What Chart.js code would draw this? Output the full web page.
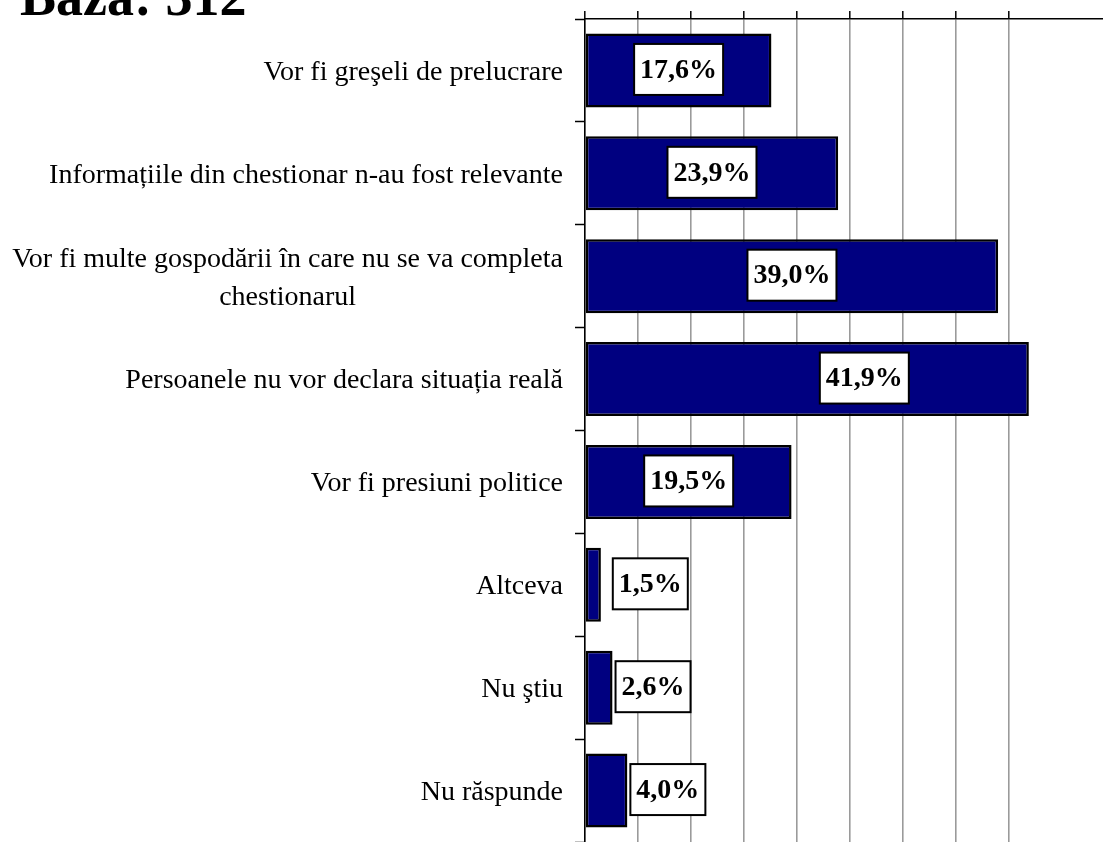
<!DOCTYPE html>
<html>
<head>
<meta charset="utf-8">
<script src="https://cdn.jsdelivr.net/npm/chart.js@4.4.0/dist/chart.umd.min.js"></script>
<style>
  html, body { margin: 0; padding: 0; background: #fff; }
</style>
</head>
<body>
<canvas id="myChart" width="1103" height="842"></canvas>
<script>
const categories = [
   "Vor fi greşeli de prelucrare",
   "Informațiile din chestionar n-au fost relevante",
   ["Vor fi multe gospodării în care nu se va completa", "chestionarul"],
   "Persoanele nu vor declara situația reală",
   "Vor fi presiuni politice",
   "Altceva",
   "Nu ştiu",
   "Nu răspunde",
];
const values = [17.6, 23.9, 39.0, 41.9, 19.5, 1.5, 2.6, 4.0];
const tickStep = 5;
const axisMax = 48.9; // picture is cut off before 50%
const title = "Bază: 312";

const serif = "'Liberation Serif', 'Times New Roman', serif";

// white boxed value labels, inside the bar when it fits, else right of it
const valueLabels = {
   id: "valueLabels",
   afterDatasetsDraw(chart, args, opts) {
      const ctx = chart.ctx;
      const meta = chart.getDatasetMeta(0);
      const shift = opts.shift || {};
      ctx.save();
      ctx.font = "bold 28px " + serif;
      ctx.textAlign = "center";
      ctx.textBaseline = "middle";
      meta.data.forEach((bar, i) => {
         const txt = values[i].toFixed(1).replace(".", ",") + "%";
         const w = ctx.measureText(txt).width + 12;
         const h = 51;
         let cx;
         if (bar.x - bar.base > w + 20) cx = (bar.x + bar.base) / 2;
         else cx = Math.max(bar.x + 3, bar.base + 27) + w / 2;
         cx += shift[i] || 0;
         const y = bar.y - 1;
         ctx.fillStyle = "#fff";
         ctx.fillRect(cx - w / 2, y - h / 2, w, h);
         ctx.lineWidth = 2;
         ctx.strokeStyle = "#000";
         ctx.strokeRect(cx - w / 2, y - h / 2, w, h);
         ctx.fillStyle = "#000";
         ctx.fillText(txt, cx, y + 1);
      });
      ctx.restore();
   },
};

// category labels: right aligned, extra lines centred under the first
const catLabels = {
   id: "catLabels",
   afterDraw(chart) {
      const ctx = chart.ctx;
      const yScale = chart.scales.y;
      const right = yScale.right - 10 - 12;
      ctx.save();
      ctx.font = "28px " + serif;
      ctx.fillStyle = "#000";
      ctx.textBaseline = "middle";
      categories.forEach((lab, i) => {
         const y = yScale.getPixelForTick(i) + 2;
         if (Array.isArray(lab)) {
            const widths = lab.map((l) => ctx.measureText(l).width);
            const cx = right - Math.max(...widths) / 2;
            const lh = 38;
            ctx.textAlign = "center";
            lab.forEach((l, k) => {
               ctx.fillText(l, cx, y + (k - (lab.length - 1) / 2) * lh);
            });
         } else {
            ctx.textAlign = "right";
            ctx.fillText(lab, right, y);
         }
      });
      // title, partly cut by the top edge
      ctx.font = "bold 54px " + serif;
      ctx.textAlign = "left";
      ctx.textBaseline = "alphabetic";
      ctx.fillText(title, 20, 15);
      ctx.restore();
   },
};

new Chart(document.getElementById("myChart"), {
   type: "bar",
   data: {
      labels: categories,
      datasets: [
         {
            data: values,
            backgroundColor: "#000080",
            borderColor: "#000",
            borderWidth: 2.5,
            borderSkipped: false,
            barPercentage: 0.72,
            categoryPercentage: 1,
         },
      ],
   },
   options: {
      indexAxis: "y",
      responsive: false,
      animation: false,
      devicePixelRatio: 1,
      layout: { padding: 0 },
      plugins: {
         legend: { display: false },
         tooltip: { enabled: false },
         valueLabels: { shift: { 3: 57 } },
      },
      scales: {
         x: {
            position: "top",
            min: 0,
            max: axisMax,
            ticks: { display: false, stepSize: tickStep },
            afterBuildTicks: (scale) => {
               scale.ticks = scale.ticks.filter((t) => t.value % tickStep === 0);
            },
            afterFit: (scale) => {
               scale.height = 19;
            },
            grid: {
               color: "#9a9a9a",
               lineWidth: 1.6,
               tickLength: 8,
               tickColor: "#000",
               tickWidth: 1.5,
            },
            border: { color: "#000", width: 1.5 },
         },
         y: {
            ticks: { display: false },
            afterFit: (scale) => {
               scale.width = 585;
            },
            grid: {
               offset: true,
               drawOnChartArea: false,
               tickLength: 10,
               tickColor: "#000",
               tickWidth: 1.5,
            },
            border: { color: "#000", width: 1.5 },
         },
      },
   },
   plugins: [valueLabels, catLabels],
});
</script>
</body>
</html>
